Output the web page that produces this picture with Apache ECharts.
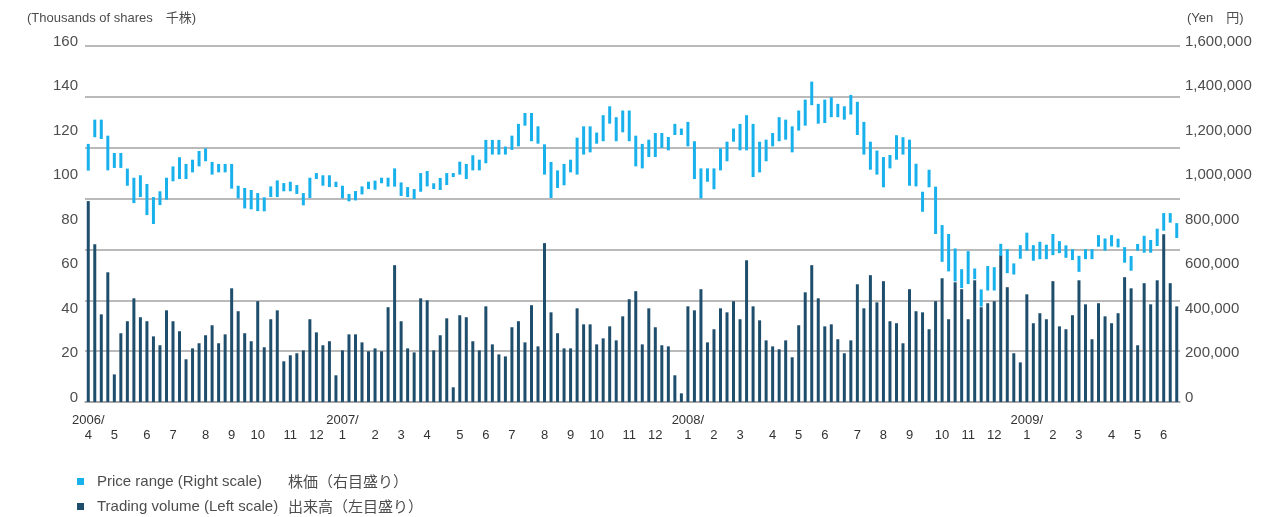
<!DOCTYPE html>
<html>
<head>
<meta charset="utf-8">
<script src="https://cdn.jsdelivr.net/npm/echarts@6.0.0/dist/echarts.min.js"></script>
<style>
  html, body { margin: 0; padding: 0; background: #ffffff; }
  #chart { width: 1288px; height: 517px; }
</style>
</head>
<body>
<div id="chart"></div>
<script>
// Weekly trading volume (thousands of shares), one value per week from the first week of April 2006
const volume = [
  90.3, 70.9, 39.4, 58.3, 12.4, 30.9, 36.3, 46.6, 38.1, 36.3,
  29.5, 25.5, 41.2, 36.3, 31.8, 19.2, 24.1, 26.4, 30.0, 34.5,
  26.4, 30.4, 51.1, 40.8, 30.9, 27.3, 45.3, 24.6, 37.2, 41.2,
  18.3, 21.0, 21.9, 23.2, 37.2, 31.3, 25.5, 27.3, 12.0, 23.2,
  30.4, 30.4, 26.8, 22.8, 24.1, 22.8, 42.6, 61.5, 36.3, 24.1,
  22.3, 46.6, 45.7, 23.2, 30.0, 37.6, 6.6, 39.0, 38.1, 27.3,
  23.2, 43.0, 25.9, 21.4, 20.5, 33.6, 36.3, 26.8, 43.5, 25.0,
  71.4, 40.3, 30.9, 24.1, 24.1, 42.1, 34.9, 34.9, 25.9, 28.6,
  34.0, 27.7, 38.5, 46.2, 49.8, 25.9, 42.1, 33.6, 25.5, 25.0,
  12.0, 3.9, 43.0, 41.2, 50.7, 26.8, 32.7, 42.1, 40.3, 45.3,
  37.2, 63.7, 43.0, 36.7, 27.7, 25.0, 23.7, 27.7, 20.1, 34.5,
  49.3, 61.5, 46.6, 34.0, 34.9, 28.2, 21.9, 27.7, 52.9, 42.1,
  57.0, 44.8, 54.3, 36.3, 35.4, 26.4, 50.7, 40.8, 40.3, 32.7,
  45.3, 55.6, 37.2, 53.8, 50.7, 37.2, 54.7, 42.6, 44.4, 45.3,
  66.0, 51.6, 21.9, 17.8, 48.4, 35.4, 39.9, 37.2, 54.3, 34.0,
  32.7, 39.0, 54.7, 43.9, 28.2, 44.4, 38.5, 35.4, 39.9, 56.1,
  51.1, 25.5, 53.4, 43.9, 54.7, 75.4, 53.4, 43.0
];

// Weekly high price (yen)
const priceHigh = [
  1160000, 1269000, 1269000, 1197000, 1119000, 1119000, 1049000, 1008000, 1019000, 980000,
  921000, 947000, 1008000, 1059000, 1100000, 1070000, 1089000, 1128000, 1140000, 1079000,
  1070000, 1070000, 1070000, 972000, 962000, 953000, 939000, 920000, 969000, 996000,
  984000, 990000, 975000, 939000, 1008000, 1029000, 1019000, 1019000, 990000, 972000,
  935000, 948000, 969000, 990000, 995000, 1008000, 1008000, 1050000, 987000, 966000,
  957000, 1029000, 1038000, 983000, 1007000, 1029000, 1029000, 1080000, 1070000, 1109000,
  1089000, 1178000, 1178000, 1178000, 1148000, 1197000, 1250000, 1299000, 1299000, 1239000,
  1158000, 1079000, 1041000, 1070000, 1089000, 1188000, 1239000, 1239000, 1211000, 1289000,
  1329000, 1280000, 1310000, 1310000, 1197000, 1160000, 1179000, 1209000, 1209000, 1191000,
  1250000, 1229000, 1259000, 1172000, 1050000, 1050000, 1050000, 1140000, 1170000, 1229000,
  1250000, 1289000, 1250000, 1170000, 1179000, 1209000, 1280000, 1269000, 1239000, 1310000,
  1359000, 1440000, 1340000, 1359000, 1370000, 1340000, 1329000, 1380000, 1349000, 1259000,
  1170000, 1130000, 1101000, 1110000, 1199000, 1190000, 1179000, 1071000, 945000, 1044000,
  968000, 795000, 755000, 690000, 597000, 678000, 600000, 506000, 611000, 606000,
  711000, 687000, 623000, 705000, 761000, 705000, 720000, 707000, 755000, 723000,
  704000, 687000, 657000, 687000, 687000, 750000, 735000, 750000, 734000, 696000,
  656000, 710000, 747000, 728000, 779000, 849000, 849000, 804000
];

// Weekly low price (yen)
const priceLow = [
  1040000, 1190000, 1182000, 1041000, 1052000, 1052000, 972000, 894000, 921000, 840000,
  800000, 885000, 909000, 992000, 1002000, 1002000, 1032000, 1059000, 1082000, 1022000,
  1032000, 1032000, 959000, 915000, 870000, 866000, 858000, 857000, 921000, 921000,
  947000, 947000, 935000, 884000, 917000, 1002000, 972000, 966000, 966000, 915000,
  902000, 906000, 933000, 957000, 954000, 983000, 968000, 968000, 926000, 921000,
  912000, 945000, 969000, 957000, 953000, 975000, 1011000, 1022000, 1002000, 1041000,
  1041000, 1073000, 1112000, 1112000, 1112000, 1133000, 1149000, 1242000, 1172000, 1161000,
  1022000, 917000, 962000, 974000, 1032000, 1022000, 1112000, 1122000, 1161000, 1172000,
  1251000, 1172000, 1212000, 1172000, 1059000, 1050000, 1101000, 1101000, 1142000, 1131000,
  1200000, 1200000, 1149000, 1002000, 915000, 990000, 956000, 1041000, 1082000, 1170000,
  1131000, 1131000, 1011000, 1032000, 1082000, 1149000, 1172000, 1179000, 1122000, 1220000,
  1242000, 1334000, 1251000, 1254000, 1280000, 1280000, 1269000, 1292000, 1200000, 1112000,
  1044000, 1022000, 965000, 1050000, 1089000, 1112000, 972000, 969000, 855000, 965000,
  755000, 630000, 587000, 542000, 512000, 530000, 552000, 429000, 501000, 501000,
  657000, 579000, 573000, 644000, 680000, 635000, 642000, 642000, 660000, 669000,
  648000, 638000, 585000, 642000, 642000, 698000, 680000, 699000, 695000, 626000,
  590000, 680000, 671000, 671000, 701000, 770000, 806000, 737000
];

// Week index of the first week of each month, and the label shown under it
const monthStartWeeks = [
  0, 4, 9, 13, 18, 22, 26, 31, 35,
  39, 44, 48, 52, 57, 61, 65, 70, 74, 78, 83, 87,
  92, 96, 100, 105, 109, 113, 118, 122, 126, 131, 135, 139,
  144, 148, 152, 157, 161, 165
];
const monthLabels = [
  '2006/\n4', '\n5', '\n6', '\n7', '\n8', '\n9', '\n10', '\n11', '\n12',
  '2007/\n1', '\n2', '\n3', '\n4', '\n5', '\n6', '\n7', '\n8', '\n9', '\n10', '\n11', '\n12',
  '2008/\n1', '\n2', '\n3', '\n4', '\n5', '\n6', '\n7', '\n8', '\n9', '\n10', '\n11', '\n12',
  '2009/\n1', '\n2', '\n3', '\n4', '\n5', '\n6'
];

// Category for every week (week number)
const weeks = volume.map((_, i) => String(i));

const COLOR_VOLUME = '#1f4e6c';
const COLOR_PRICE = '#19b1ec';
const COLOR_TEXT = '#4d4d4d';
const COLOR_GRID = '#a3a3a3';
const FONT = '"Liberation Sans", Arial, sans-serif';
const FONT_JP = '"Liberation Sans", "Noto Sans CJK JP", sans-serif';

const labelByWeek = new Map(monthStartWeeks.map((w, i) => [w, monthLabels[i]]));

const chart = echarts.init(document.getElementById('chart'), null, { renderer: 'canvas' });

chart.setOption({
  animation: false,
  backgroundColor: '#ffffff',
  grid: { left: 85, right: 108, top: 46, bottom: 115, containLabel: false },
  xAxis: {
    type: 'category',
    data: weeks,
    boundaryGap: true,
    axisLine: { show: true, lineStyle: { color: COLOR_GRID, width: 1.5 } },
    axisTick: { show: false },
    splitLine: { show: false },
    axisLabel: {
      interval: (index) => labelByWeek.has(index),
      formatter: (value) => labelByWeek.get(Number(value)) || '',
      color: '#333333',
      fontFamily: FONT,
      fontSize: 13,
      lineHeight: 15,
      margin: 11
    }
  },
  yAxis: [
    {
      type: 'value',
      position: 'left',
      min: 0,
      max: 160,
      interval: 20,
      axisLine: { show: false },
      axisTick: { show: false },
      splitLine: { show: false },
      axisLabel: {
        color: COLOR_TEXT,
        fontFamily: FONT,
        fontSize: 15,
        margin: 7,
        verticalAlign: 'bottom',
        lineHeight: 9
      }
    },
    {
      type: 'value',
      position: 'right',
      min: 0,
      max: 1600000,
      interval: 200000,
      axisLine: { show: false },
      axisTick: { show: false },
      splitLine: { show: false },
      axisLabel: {
        color: COLOR_TEXT,
        fontFamily: FONT,
        fontSize: 15,
        margin: 5,
        verticalAlign: 'bottom',
        lineHeight: 9,
        formatter: (v) => v.toLocaleString('en-US')
      }
    },
    {
      // horizontal rules across the plot
      type: 'value',
      position: 'left',
      min: 0,
      max: 7,
      interval: 1,
      axisLine: { show: false },
      axisTick: { show: false },
      axisLabel: { show: false },
      splitLine: { show: true, lineStyle: { color: COLOR_GRID, width: 1.5 } }
    }
  ],
  series: [
    {
      name: 'Trading volume',
      type: 'bar',
      yAxisIndex: 0,
      data: volume,
      barWidth: 3,
      itemStyle: { color: COLOR_VOLUME },
      z: 3
    },
    {
      name: 'Price range',
      type: 'custom',
      yAxisIndex: 1,
      data: priceHigh.map((h, i) => [i, h, priceLow[i]]),
      encode: { x: 0, y: [1, 2] },
      renderItem: (params, api) => {
        const top = api.coord([api.value(0), api.value(1)]);
        const bottom = api.coord([api.value(0), api.value(2)]);
        return {
          type: 'rect',
          shape: { x: top[0] - 1.5, y: top[1], width: 3, height: bottom[1] - top[1] },
          style: { fill: COLOR_PRICE }
        };
      },
      z: 4
    }
  ],
  graphic: [
    {
      type: 'text', left: 27, top: 12,
      style: { text: '(Thousands of shares\u3000千株)', fill: COLOR_TEXT, font: '13px ' + FONT_JP }
    },
    {
      type: 'text', left: 1187, top: 12,
      style: { text: '(Yen\u3000円)', fill: COLOR_TEXT, font: '13px ' + FONT_JP }
    },
    {
      type: 'rect', shape: { x: 77, y: 478, width: 7, height: 7 },
      style: { fill: COLOR_PRICE }
    },
    {
      type: 'text', left: 97, top: 474,
      style: { text: 'Price range (Right scale)', fill: COLOR_TEXT, font: '15px ' + FONT }
    },
    {
      type: 'text', left: 288, top: 474,
      style: { text: '株価（右目盛り）', fill: COLOR_TEXT, font: '15px "Noto Sans CJK JP", sans-serif' }
    },
    {
      type: 'rect', shape: { x: 77, y: 503, width: 7, height: 7 },
      style: { fill: COLOR_VOLUME }
    },
    {
      type: 'text', left: 97, top: 499,
      style: { text: 'Trading volume (Left scale)', fill: COLOR_TEXT, font: '15px ' + FONT }
    },
    {
      type: 'text', left: 288, top: 499,
      style: { text: '出来高（左目盛り）', fill: COLOR_TEXT, font: '15px "Noto Sans CJK JP", sans-serif' }
    }
  ]
});
</script>
</body>
</html>
